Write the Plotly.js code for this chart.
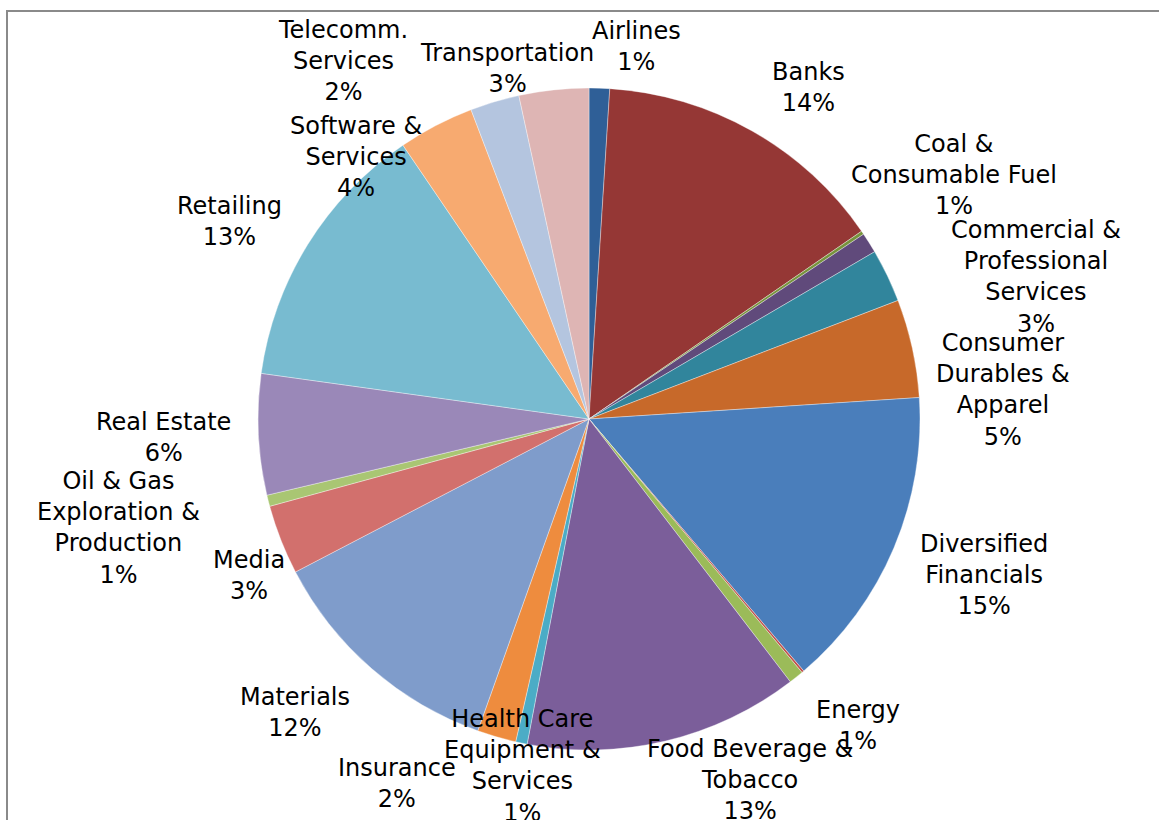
<!DOCTYPE html>
<html>
<head>
<meta charset="utf-8">
<script src="https://cdn.plot.ly/plotly-3.0.1.min.js"></script>
<style>
html,body{margin:0;padding:0;background:#fff;overflow:hidden;}
#wrap{position:relative;width:1159px;height:820px;overflow:hidden;}
#chart{position:absolute;left:0;top:0;width:1159px;height:820px;}
#frame{position:absolute;left:6px;top:10px;width:1200px;height:900px;border-top:2.5px solid #8a8a8a;border-left:2.5px solid #8a8a8a;pointer-events:none;}
</style>
</head>
<body>
<div id="wrap"><div id="chart"></div><div id="frame"></div></div>
<script>
// Industry categories (clockwise from 12 o'clock)
var categories = [
  "Airlines", "Banks", "Capital Goods", "Coal & Consumable Fuel",
  "Commercial & Professional Services", "Consumer Durables & Apparel",
  "Diversified Financials", "Electrical Equipment", "Energy",
  "Food Beverage & Tobacco", "Health Care Equipment & Services", "Insurance",
  "Materials", "Media", "Oil & Gas Exploration & Production", "Real Estate",
  "Retailing", "Software & Services", "Telecomm. Services", "Transportation"
];
// Share of portfolio (%)
var shares = [
  1.0, 14.4, 0.17, 1.0,
  2.6, 4.8,
  14.8, 0.11, 0.72,
  13.4, 0.56, 1.9,
  11.9, 3.4, 0.55, 5.9,
  13.3, 3.7, 2.4, 3.4
];
// Label text as printed on the chart (null = slice has no label)
var displayLabels = [
  "Airlines", "Banks", null, "Coal &<br>Consumable Fuel",
  "Commercial &<br>Professional<br>Services", "Consumer<br>Durables &<br>Apparel",
  "Diversified<br>Financials", null, "Energy",
  "Food Beverage &<br>Tobacco", "Health Care<br>Equipment &<br>Services", "Insurance",
  "Materials", "Media", "Oil & Gas<br>Exploration &<br>Production", "Real Estate",
  "Retailing", "Software &<br>Services", "Telecomm.<br>Services", "Transportation"
];

// Styling
var sliceColors = [
  "#2f5f97", "#953735", "#77933c", "#604a7b", "#31859c", "#c7692a",
  "#4a7ebb", "#c0504d", "#9bbb59", "#7b5e9a", "#4bacc6", "#ee8c3e",
  "#7f9ccb", "#d2706d", "#a9c673", "#9a88b8", "#78bbd0", "#f7aa70",
  "#b4c5df", "#deb5b4"
];
// Label anchor positions in pixels (layout only)
var labelPos = [
  [636, 46], [808, 88], null, [954, 175],
  [1036, 277], [1003, 390],
  [984, 575], null, [858, 725],
  [750, 780], [522, 766], [397, 783],
  [295, 712], [249, 575], [118, 528], [163, 437],
  [229, 221], [356, 157], [343, 61], [507, 69]
];

var W = 1159, H = 820;
var total = shares.reduce(function(a, b){ return a + b; }, 0);

var annotations = [];
for (var i = 0; i < categories.length; i++) {
  if (!displayLabels[i] || !labelPos[i]) continue;
  var pct = Math.round(shares[i] / total * 100);
  annotations.push({
    text: displayLabels[i] + "<br>" + pct + "%",
    x: labelPos[i][0] / W, y: 1 - labelPos[i][1] / H,
    xref: "paper", yref: "paper",
    xanchor: "center", yanchor: "middle",
    align: "center", showarrow: false,
    font: {family: "DejaVu Sans, Verdana, sans-serif", size: 24, color: "#000"}
  });
}

// Pie geometry: center (589,419), radius 331 px
var cx = 589, cy = 419, r = 331;
var trace = {
  type: "pie",
  labels: categories,
  values: shares,
  sort: false,
  direction: "clockwise",
  rotation: 0,
  textinfo: "none",
  hoverinfo: "label+percent",
  marker: {colors: sliceColors, line: {color: "rgba(255,255,255,0.6)", width: 0.6}},
  domain: {
    x: [(cx - r) / W, (cx + r) / W],
    y: [1 - (cy + r) / H, 1 - (cy - r) / H]
  },
  showlegend: false
};

var layout = {
  width: W, height: H,
  margin: {l: 0, r: 0, t: 0, b: 0},
  paper_bgcolor: "rgba(0,0,0,0)",
  showlegend: false,
  annotations: annotations
};

Plotly.newPlot("chart", [trace], layout, {displayModeBar: false, staticPlot: true});
</script>
</body>
</html>
